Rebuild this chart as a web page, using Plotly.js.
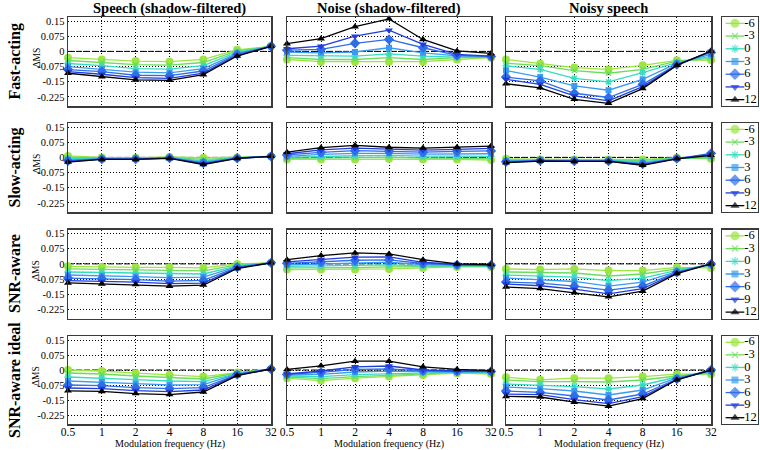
<!DOCTYPE html>
<html><head><meta charset="utf-8">
<script src="https://cdn.plot.ly/plotly-3.0.1.min.js"></script>
<style>html,body{margin:0;padding:0;background:#fff}#chart{width:760px;height:450px}</style>
</head><body><div id="chart"></div>
<script>
// ---------- data ----------
const freqs = [0.5, 1, 2, 4, 8, 16, 32];
const freqLabels = ['0.5', '1', '2', '4', '8', '16', '32'];
const snrLabels = ['-6', '-3', '0', '3', '6', '9', '12'];
const colTitles = ['Speech (shadow-filtered)', 'Noise (shadow-filtered)', 'Noisy speech'];
const rowTitles = ['Fast-acting', 'Slow-acting', 'SNR-aware', 'SNR-aware ideal'];
const yTickVals = [-0.225, -0.15, -0.075, 0, 0.075, 0.15];
const yTickText = ['-0.225', '-0.15', '-0.075', '0', '0.075', '0.15'];
const xTitle = 'Modulation frequency (Hz)';
const yTitle = 'ΔMS';

// each panel: one row per SNR (-6 ... 12), one value per modulation frequency
const fastSpeech = [
  [-0.031, -0.040, -0.048, -0.051, -0.040, 0.008, 0.025],
  [-0.045, -0.055, -0.065, -0.068, -0.055, 0.002, 0.025],
  [-0.060, -0.070, -0.085, -0.088, -0.070, -0.004, 0.025],
  [-0.075, -0.088, -0.103, -0.106, -0.085, -0.010, 0.025],
  [-0.090, -0.100, -0.118, -0.120, -0.097, -0.015, 0.025],
  [-0.100, -0.113, -0.130, -0.133, -0.107, -0.020, 0.025],
  [-0.108, -0.125, -0.141, -0.143, -0.115, -0.023, 0.025]
];
const fastNoise = [
  [-0.040, -0.051, -0.051, -0.051, -0.051, -0.040, -0.031],
  [-0.031, -0.040, -0.040, -0.031, -0.040, -0.031, -0.030],
  [-0.020, -0.023, -0.023, -0.012, -0.023, -0.028, -0.030],
  [-0.003, -0.007, -0.003, 0.018, -0.007, -0.022, -0.027],
  [0.006, 0.010, 0.040, 0.059, 0.018, -0.020, -0.025],
  [0.013, 0.026, 0.075, 0.105, 0.035, -0.015, -0.023],
  [0.038, 0.063, 0.122, 0.161, 0.059, 0.002, -0.010]
];
const fastNoisy = [
  [-0.040, -0.061, -0.080, -0.089, -0.069, -0.044, -0.043],
  [-0.059, -0.070, -0.095, -0.108, -0.089, -0.048, -0.035],
  [-0.072, -0.089, -0.133, -0.151, -0.105, -0.056, -0.025],
  [-0.094, -0.127, -0.171, -0.192, -0.138, -0.059, -0.015],
  [-0.127, -0.146, -0.207, -0.228, -0.163, -0.065, -0.005],
  [-0.138, -0.163, -0.220, -0.245, -0.174, -0.068, 0.000],
  [-0.160, -0.180, -0.237, -0.257, -0.184, -0.069, 0.002]
];
const slowSpeech = [
  [0.007, 0.000, -0.002, 0.002, -0.002, 0.000, 0.005],
  [0.000, -0.003, -0.004, 0.000, -0.010, -0.002, 0.005],
  [-0.006, -0.005, -0.005, -0.001, -0.017, -0.003, 0.005],
  [-0.012, -0.007, -0.007, -0.002, -0.023, -0.003, 0.005],
  [-0.017, -0.008, -0.008, -0.003, -0.028, -0.004, 0.005],
  [-0.020, -0.009, -0.009, -0.004, -0.032, -0.005, 0.005],
  [-0.023, -0.010, -0.010, -0.005, -0.035, -0.005, 0.005]
];
const slowNoise = [
  [-0.010, -0.010, -0.010, -0.007, -0.010, -0.010, -0.013],
  [-0.005, -0.003, -0.002, 0.000, -0.003, -0.003, -0.005],
  [0.000, 0.005, 0.008, 0.010, 0.006, 0.006, 0.005],
  [0.005, 0.015, 0.020, 0.020, 0.016, 0.017, 0.018],
  [0.012, 0.025, 0.033, 0.030, 0.026, 0.030, 0.032],
  [0.018, 0.037, 0.046, 0.040, 0.036, 0.040, 0.045],
  [0.026, 0.048, 0.059, 0.050, 0.046, 0.050, 0.056]
];
const slowNoisy = [
  [-0.007, -0.010, -0.010, -0.010, -0.010, -0.002, -0.007],
  [-0.012, -0.012, -0.012, -0.012, -0.015, -0.003, -0.003],
  [-0.015, -0.014, -0.014, -0.014, -0.022, -0.004, 0.002],
  [-0.019, -0.015, -0.016, -0.016, -0.028, -0.005, 0.008],
  [-0.022, -0.016, -0.018, -0.018, -0.033, -0.006, 0.020],
  [-0.024, -0.017, -0.019, -0.019, -0.036, -0.006, 0.015],
  [-0.026, -0.018, -0.020, -0.020, -0.039, -0.007, 0.010]
];
const awareSpeech = [
  [-0.012, -0.015, -0.017, -0.017, -0.020, 0.000, 0.005],
  [-0.025, -0.028, -0.030, -0.032, -0.035, -0.005, 0.005],
  [-0.040, -0.043, -0.047, -0.050, -0.050, -0.010, 0.005],
  [-0.055, -0.058, -0.063, -0.068, -0.065, -0.013, 0.005],
  [-0.070, -0.073, -0.078, -0.085, -0.082, -0.017, 0.005],
  [-0.083, -0.087, -0.090, -0.098, -0.095, -0.020, 0.005],
  [-0.094, -0.099, -0.102, -0.110, -0.105, -0.023, 0.005]
];
const awareNoise = [
  [-0.028, -0.028, -0.028, -0.025, -0.020, -0.015, -0.015],
  [-0.020, -0.020, -0.018, -0.015, -0.015, -0.012, -0.012],
  [-0.012, -0.010, -0.008, -0.005, -0.010, -0.009, -0.010],
  [-0.005, 0.000, 0.005, 0.008, -0.004, -0.007, -0.008],
  [0.003, 0.010, 0.018, 0.020, 0.002, -0.005, -0.007],
  [0.010, 0.021, 0.033, 0.035, 0.008, -0.003, -0.005],
  [0.021, 0.041, 0.054, 0.049, 0.021, 0.000, -0.003]
];
const awareNoisy = [
  [-0.025, -0.028, -0.025, -0.033, -0.033, -0.017, -0.020],
  [-0.040, -0.043, -0.045, -0.060, -0.050, -0.025, -0.010],
  [-0.055, -0.060, -0.065, -0.083, -0.070, -0.032, -0.005],
  [-0.070, -0.077, -0.087, -0.110, -0.090, -0.038, 0.000],
  [-0.090, -0.095, -0.110, -0.130, -0.110, -0.042, 0.000],
  [-0.100, -0.108, -0.125, -0.148, -0.122, -0.045, 0.000],
  [-0.114, -0.122, -0.143, -0.163, -0.135, -0.048, 0.000]
];
const idealSpeech = [
  [0.000, -0.005, -0.016, -0.025, -0.033, -0.013, 0.005],
  [-0.015, -0.020, -0.030, -0.038, -0.045, -0.015, 0.005],
  [-0.035, -0.040, -0.048, -0.055, -0.058, -0.018, 0.005],
  [-0.055, -0.060, -0.068, -0.075, -0.073, -0.020, 0.005],
  [-0.075, -0.078, -0.088, -0.093, -0.088, -0.023, 0.005],
  [-0.090, -0.093, -0.103, -0.108, -0.100, -0.025, 0.005],
  [-0.104, -0.107, -0.118, -0.123, -0.110, -0.028, 0.005]
];
const idealNoise = [
  [-0.041, -0.053, -0.041, -0.033, -0.025, -0.016, -0.020],
  [-0.035, -0.043, -0.033, -0.026, -0.020, -0.013, -0.016],
  [-0.030, -0.033, -0.023, -0.018, -0.014, -0.011, -0.013],
  [-0.025, -0.022, -0.010, -0.006, -0.008, -0.009, -0.010],
  [-0.022, -0.012, 0.003, 0.006, -0.004, -0.007, -0.007],
  [-0.020, -0.005, 0.016, 0.020, 0.000, -0.005, -0.005],
  [0.003, 0.021, 0.044, 0.044, 0.016, 0.003, -0.003]
];
const idealNoisy = [
  [-0.036, -0.049, -0.041, -0.041, -0.033, -0.021, -0.021],
  [-0.050, -0.058, -0.058, -0.060, -0.050, -0.030, -0.015],
  [-0.070, -0.075, -0.083, -0.095, -0.075, -0.035, -0.010],
  [-0.085, -0.093, -0.105, -0.125, -0.100, -0.040, -0.005],
  [-0.105, -0.112, -0.130, -0.150, -0.120, -0.045, 0.000],
  [-0.120, -0.123, -0.148, -0.168, -0.133, -0.048, 0.000],
  [-0.132, -0.135, -0.161, -0.181, -0.143, -0.049, 0.000]
];

// ---------- styles ----------
const colors  = ['#9be641', '#6cdc5c', '#37dcc0', '#3a9cf0', '#2f6ee8', '#1f3ddc', '#000000'];
const symbols = ['circle', 'x-thin-open', 'asterisk-open', 'square', 'diamond', 'triangle-down', 'triangle-up'];
const msizes  = [8, 5, 6, 6, 8, 7, 7];
const legSizes = [9, 6, 7, 7, 9, 8, 8];
const openSym = [false, true, true, false, false, false, false];
const FONT = 'Liberation Serif, Times New Roman, serif';

const panels = [
  [fastSpeech, fastNoise, fastNoisy],
  [slowSpeech, slowNoise, slowNoisy],
  [awareSpeech, awareNoise, awareNoisy],
  [idealSpeech, idealNoise, idealNoisy]
];

const W = 760, H = 450;
const colPx = [[68, 271], [287, 491], [506, 711]];
const rowPx = [[17, 106], [123, 212], [229.5, 318.5], [336, 424]];
const legPx = [722, 758];
const yRange = [-0.27, 0.17];

function marker(i, size) {
  const m = {color: colors[i], symbol: symbols[i], size: size};
  m.line = openSym[i] ? {color: colors[i], width: 1.3} : {width: 0};
  return m;
}

const traces = [];
const layout = {
  width: W, height: H,
  margin: {l: 0, r: 0, t: 0, b: 0},
  paper_bgcolor: '#fff', plot_bgcolor: '#fff',
  showlegend: false,
  font: {family: FONT, color: '#000'},
  annotations: [],
  shapes: []
};

for (let r = 0; r < 4; r++) {
  const yDom = [1 - rowPx[r][1] / H, 1 - rowPx[r][0] / H];
  for (let c = 0; c < 3; c++) {
    const k = r * 3 + c + 1;
    const xa = 'x' + k, ya = 'y' + k;
    const data = panels[r][c];
    for (let i = 0; i < snrLabels.length; i++) {
      traces.push({
        type: 'scatter', mode: 'lines+markers',
        x: freqs, y: data[i],
        xaxis: xa, yaxis: ya,
        name: snrLabels[i],
        line: {color: colors[i], width: 1.3},
        marker: marker(i, msizes[i]),
        cliponaxis: false
      });
    }
    const xax = {
      domain: [colPx[c][0] / W, colPx[c][1] / W],
      anchor: ya, type: 'log',
      range: [Math.log10(0.5), Math.log10(32)],
      tickmode: 'array', tickvals: freqs, ticktext: freqLabels,
      showticklabels: r === 3,
      tickfont: {size: 11.5, family: FONT},
      ticks: '',
      showgrid: true, gridcolor: '#000', gridwidth: 1, griddash: '1px,2px',
      showline: true, mirror: true, linecolor: '#3a3a3a', linewidth: 1.5,
      zeroline: false, fixedrange: true
    };
    if (r === 3) xax.ticklabelstandoff = -3;
    layout['xaxis' + k] = xax;
    layout['yaxis' + k] = {
      domain: yDom, anchor: xa,
      range: yRange,
      tickmode: 'array', tickvals: yTickVals, ticktext: yTickText,
      showticklabels: c === 0,
      tickfont: {size: 10.5, family: FONT},
      ticks: '',
      showgrid: true, gridcolor: '#000', gridwidth: 1, griddash: '1px,2px',
      showline: true, mirror: true, linecolor: '#3a3a3a', linewidth: 1.5,
      zeroline: false, fixedrange: true
    };
    layout.shapes.push({
      type: 'line', layer: 'below',
      xref: xa + ' domain', x0: 0, x1: 1,
      yref: ya, y0: 0, y1: 0,
      line: {color: '#000', width: 1, dash: '6px,2px'}
    });
  }
  // legend box drawn as its own small subplot
  const k = 13 + r;
  const xa = 'x' + k, ya = 'y' + k;
  layout['xaxis' + k] = {
    domain: [legPx[0] / W, legPx[1] / W], anchor: ya, range: [0, 1],
    showgrid: false, zeroline: false, showticklabels: false, ticks: '',
    showline: true, mirror: true, linecolor: '#3a3a3a', linewidth: 1.2, fixedrange: true
  };
  layout['yaxis' + k] = {
    domain: yDom, anchor: xa, range: [snrLabels.length, 0],
    showgrid: false, zeroline: false, showticklabels: false, ticks: '',
    showline: true, mirror: true, linecolor: '#3a3a3a', linewidth: 1.2, fixedrange: true
  };
  for (let i = 0; i < snrLabels.length; i++) {
    const m = marker(i, [0, legSizes[i], 0]);
    traces.push({
      type: 'scatter', mode: 'lines+markers+text',
      x: [0.1, 0.36, 0.62], y: [i + 0.5, i + 0.5, i + 0.5],
      xaxis: xa, yaxis: ya,
      text: ['', '', snrLabels[i]], textposition: 'middle right',
      textfont: {size: 12.5, family: FONT, color: '#000'},
      line: {color: colors[i], width: 1.3},
      marker: m, cliponaxis: false, hoverinfo: 'skip'
    });
  }
  // row label and y title
  const yc = 1 - (rowPx[r][0] + rowPx[r][1]) / 2 / H;
  layout.annotations.push({
    text: '<b>' + rowTitles[r] + '</b>', xref: 'paper', yref: 'paper',
    x: 14 / W, y: yc, textangle: -90, showarrow: false,
    xanchor: 'center', yanchor: 'middle',
    font: {size: 16, family: FONT, color: '#000'}
  });
  layout.annotations.push({
    text: yTitle, xref: 'paper', yref: 'paper',
    x: 36 / W, y: yc + 4 / H, textangle: -90, showarrow: false,
    xanchor: 'center', yanchor: 'middle',
    font: {size: 9.5, family: FONT, color: '#000'}
  });
}

for (let c = 0; c < 3; c++) {
  const xc = (colPx[c][0] + colPx[c][1]) / 2 / W;
  layout.annotations.push({
    text: '<b>' + colTitles[c] + '</b>', xref: 'paper', yref: 'paper',
    x: xc, y: 1 - 8 / H, showarrow: false, xanchor: 'center', yanchor: 'middle',
    font: {size: 14.5, family: FONT, color: '#000'}
  });
  layout.annotations.push({
    text: xTitle, xref: 'paper', yref: 'paper',
    x: xc, y: -2 / H, showarrow: false, xanchor: 'center', yanchor: 'bottom',
    font: {size: 10, family: FONT, color: '#000'}
  });
}

Plotly.newPlot('chart', traces, layout, {staticPlot: true, displayModeBar: false});
</script>
</body></html>
